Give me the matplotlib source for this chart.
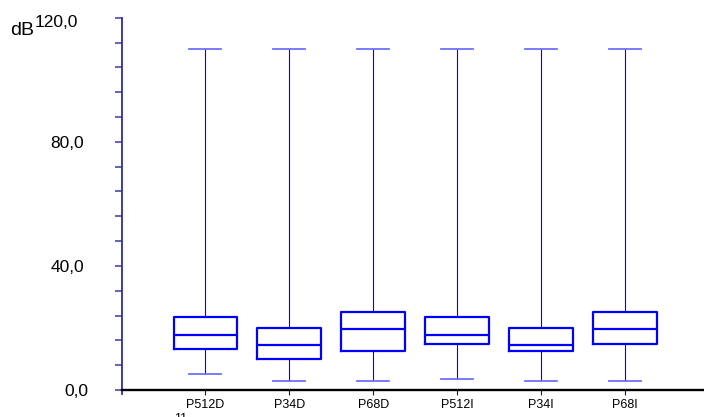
import matplotlib
matplotlib.use("Agg")
import matplotlib.pyplot as plt
import matplotlib.transforms as mtransforms

plt.rcParams['font.family'] = ['Liberation Sans', 'DejaVu Sans']

# datos (dB)
labels = ["P512D", "P34D", "P68D", "P512I", "P34I", "P68I"]
whislo = [5.1, 2.8, 2.8, 3.4, 2.8, 2.8]
q1 = [13.1, 9.9, 12.4, 14.8, 12.4, 14.8]
med = [17.8, 14.6, 19.6, 17.8, 14.6, 19.6]
q3 = [23.4, 20.1, 25.1, 23.4, 20.1, 25.1]
whishi = [110.0, 110.0, 110.0, 110.0, 110.0, 110.0]

ytick_major = [0, 40, 80, 120]
ytick_labels = ["0,0", "40,0", "80,0", "120,0"]
ytick_minor = [8, 16, 24, 32, 48, 56, 64, 72, 88, 96, 104, 112]

stats = []
for i in range(len(labels)):
    stats.append(dict(label=labels[i], whislo=whislo[i], q1=q1[i], med=med[i],
                      q3=q3[i], whishi=whishi[i], fliers=[]))

fig = plt.figure(figsize=(7.04, 4.17), dpi=100)
ax = fig.add_axes([121.5/704, (417-394)/417, 1 - 121.5/704, (394-17.7)/417])

ax.bxp(stats, positions=range(1, len(labels)+1), widths=0.76, showfliers=False,
       boxprops=dict(color='#0000ff', linewidth=1.6),
       medianprops=dict(color='#0000ff', linewidth=1.6),
       whiskerprops=dict(color='#0000ff', linewidth=0.8),
       capprops=dict(color='#6f6fff', linewidth=1.3))

ax.set_xlim(0, 6.94)
ax.set_ylim(-1.3, 120)

# ejes
ax.spines['top'].set_visible(False)
ax.spines['right'].set_visible(False)
ax.spines['bottom'].set_position(('data', 0))
ax.spines['bottom'].set_color('black')
ax.spines['bottom'].set_linewidth(1.7)
ax.spines['left'].set_color('#2e2e9c')
ax.spines['left'].set_linewidth(1.3)

ax.set_yticks(ytick_major)
ax.set_yticklabels(ytick_labels, fontsize=12.5)
ax.set_yticks(ytick_minor, minor=True)
ax.tick_params(axis='y', which='both', direction='out', length=5, width=1.2,
               color='#4a4aa8', pad=22)

ax.set_xticks(range(1, len(labels)+1))
ax.set_xticklabels(labels, fontsize=9)
ax.tick_params(axis='x', direction='out', length=3.6, width=0.8, color='#0000ff', pad=3)

# ajustes de posicion de etiquetas (px -> pulgadas)
offsets = {"0,0": (4, 0), "120,0": (-6, -3.5)}
for lab in ax.get_yticklabels():
    if lab.get_text() in offsets:
        dx, dy = offsets[lab.get_text()]
        lab.set_transform(lab.get_transform() +
                          mtransforms.ScaledTranslation(dx/100, dy/100, fig.dpi_scale_trans))

fig.text(10/704, (417-35)/417, "dB", fontsize=14, va='baseline', ha='left')
fig.text(174/704, (417-413)/417, "11", fontsize=9, va='top', ha='left')

fig.savefig("out.png", dpi=100)
